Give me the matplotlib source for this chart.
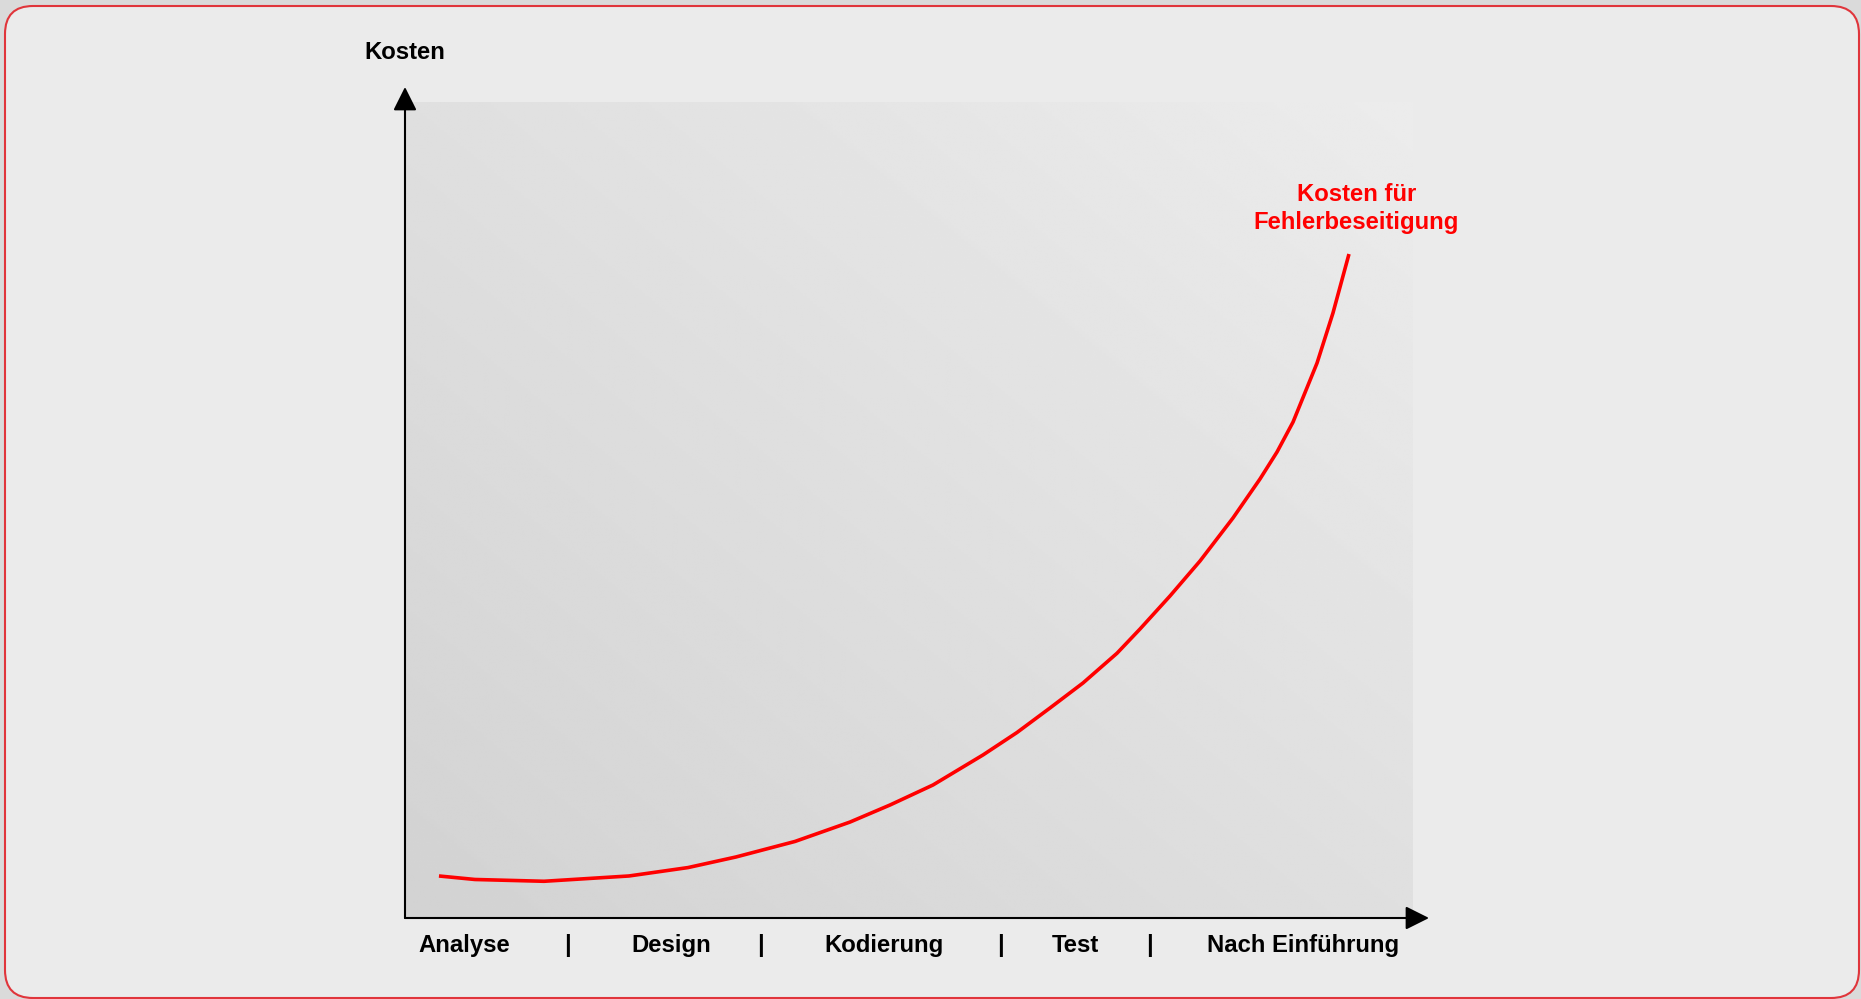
import numpy as np
import matplotlib.pyplot as plt
from matplotlib.patches import FancyBboxPatch

plt.rcParams['font.family'] = ['Liberation Sans', 'DejaVu Sans']

# -------------------------------
# Data
# -------------------------------
phases = ["Analyse", "Design", "Kodierung", "Test", "Nach Einführung"]
phase_pos = [0.585, 2.64, 4.75, 6.65, 8.91]
sep_pos = [1.61, 3.53, 5.91, 7.39]

# cost of fixing defects along the project (x: 0..10, y: 0..100)
cost_x = [0.337, 0.694, 1.379, 2.222, 2.808, 3.284, 3.869, 4.415, 4.812,
          5.238, 5.734, 6.071, 6.399, 6.726, 7.063, 7.292, 7.589, 7.887,
          8.214, 8.482, 8.651, 8.810, 9.048, 9.206, 9.365]
cost_y = [5.15, 4.72, 4.50, 5.15, 6.18, 7.48, 9.38, 11.76, 13.85,
          16.30, 19.98, 22.73, 25.74, 28.80, 32.44, 35.42, 39.46, 43.75,
          49.02, 53.80, 57.11, 60.78, 68.01, 74.14, 81.37]

y_label = "Kosten"
curve_label = "Kosten für\nFehlerbeseitigung"

# -------------------------------
# Figure + rounded frame
# -------------------------------
W, H = 1861, 999
fig = plt.figure(figsize=(W / 100, H / 100), dpi=100, facecolor='#DADADA')

frame = FancyBboxPatch((0.05, 0.01), 18.54, 9.92,
                       boxstyle='round,pad=0,rounding_size=0.28',
                       transform=fig.dpi_scale_trans,
                       facecolor='#EBEBEB', edgecolor='#E0353B', lw=1.5,
                       zorder=-10)
fig.patches.append(frame)

# plot area
ax = fig.add_axes([405 / W, 81 / H, 1008 / W, 816 / H])
ax.set_xlim(0, 10)
ax.set_ylim(0, 100)
ax.axis('off')

# diagonal grey gradient background
gx, gy = np.meshgrid(np.linspace(0, 1, 300), np.linspace(0, 1, 300))
grad = 0.825 + 0.10 * (gx + gy) / 2
ax.imshow(grad, extent=[0, 10, 0, 100], origin='lower', aspect='auto',
          cmap='gray', vmin=0, vmax=1, zorder=0, interpolation='bilinear')

# curve
ax.plot(cost_x, cost_y, color='#FF0000', lw=2.6,
        solid_capstyle='butt', solid_joinstyle='round', zorder=3)

# axes with arrows
arrow = dict(arrowstyle='-|>,head_length=0.4,head_width=0.2', mutation_scale=36,
             lw=1.5, color='black', shrinkA=0, shrinkB=0)
ax.annotate('', xy=(0, 1 + 15 / 816), xytext=(0, 0), xycoords='axes fraction',
            arrowprops=arrow, annotation_clip=False)
ax.annotate('', xy=(1 + 16 / 1008, 0), xytext=(0, 0), xycoords='axes fraction',
            arrowprops=arrow, annotation_clip=False)

# phase labels under the x axis
lab_y = -34 / 816
for p, name in zip(phase_pos, phases):
    ax.text(p, lab_y, name, transform=ax.get_xaxis_transform(), ha='center',
            va='baseline', fontsize=17.2, fontweight='bold', clip_on=False)
for p in sep_pos:
    ax.text(p, lab_y, '|', transform=ax.get_xaxis_transform(), ha='center',
            va='baseline', fontsize=17.2, fontweight='bold', clip_on=False)

fig.text(405 / W, 1 - 52.5 / H, y_label, ha='center', va='center',
         fontsize=17.2, fontweight='bold')

ax.text(9.44, 86.95, curve_label, color='#FF0000', ha='center', va='center',
        multialignment='center', fontsize=17.2, fontweight='bold',
        linespacing=1.32, clip_on=False)

fig.savefig('out.png', dpi=100, facecolor=fig.get_facecolor())
